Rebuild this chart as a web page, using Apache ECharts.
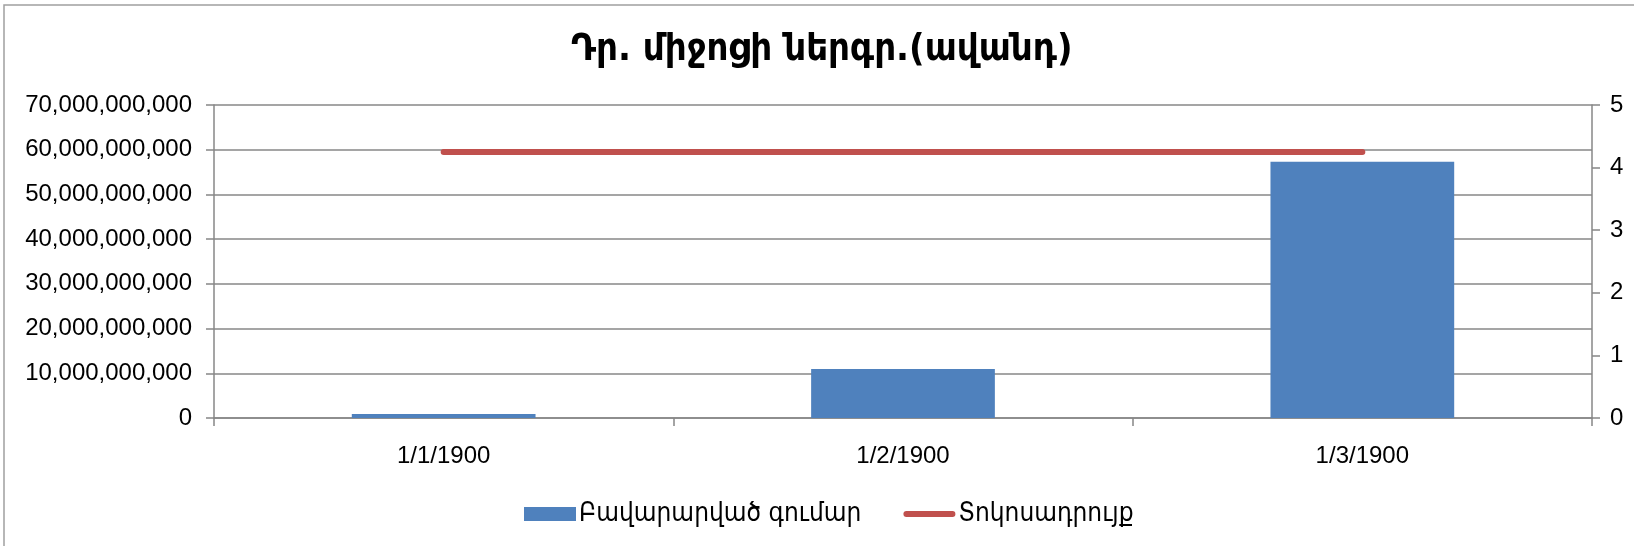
<!DOCTYPE html>
<html>
<head>
<meta charset="utf-8">
<script src="https://cdn.jsdelivr.net/npm/echarts@6/dist/echarts.min.js"></script>
<style>
  html, body { margin: 0; padding: 0; background: #fff; }
  #main { width: 1634px; height: 546px; }
</style>
</head>
<body>
<div id="main"></div>
<script>
// chart data
var categories = ["1/1/1900", "1/2/1900", "1/3/1900"];
var amountValues = [900000000, 10950000000, 57300000000];
var rateValues = [4.25, 4.25, 4.25];
var seriesNames = ["Բավարարված գումար", "Տոկոսադրույք"];
var titleText = "Դր. միջոցի ներգր.(ավանդ)";

var chart = echarts.init(document.getElementById("main"));
var labelFont = "'Liberation Sans', 'DejaVu Sans', sans-serif";
var armFont = "'DejaVu Sans Condensed', 'DejaVu Sans', sans-serif";
var gray = "#878787";

var option = {
  animation: false,
  textStyle: { fontFamily: labelFont },
  title: {
    text: titleText,
    left: 566,
    top: 26,
    textStyle: {
      fontFamily: armFont,
      fontWeight: "bold",
      fontSize: 38,
      color: "#000"
    }
  },
  graphic: [{
    type: "rect",
    shape: { x: 4, y: 5, width: 1700, height: 700 },
    style: { fill: null, stroke: "#a0a0a0", lineWidth: 1.5 },
    silent: true
  }],
  legend: {
    left: 519,
    top: 496,
    itemWidth: 52,
    itemHeight: 14,
    itemGap: 42,
    data: [
      { name: seriesNames[0], icon: "rect" },
      {
        name: seriesNames[1],
        icon: "path://M3,0 H49 A3,3 0 0 1 49,6 H3 A3,3 0 0 1 3,0 Z",
        itemStyle: { color: "#C0504D" }
      }
    ],
    textStyle: {
      fontFamily: armFont,
      fontSize: 26,
      color: "#000",
      padding: [0, 0, 0, -2]
    }
  },
  grid: { left: 214, right: 42, top: 105, bottom: 128 },
  xAxis: {
    type: "category",
    data: categories,
    axisLine: { lineStyle: { color: gray, width: 1.5 } },
    axisTick: { show: true, length: 8, lineStyle: { color: gray, width: 1.5 } },
    axisLabel: { fontSize: 24, color: "#000", margin: 26 }
  },
  yAxis: [
    {
      type: "value",
      min: 0,
      max: 70000000000,
      interval: 10000000000,
      axisLine: { show: true, lineStyle: { color: gray, width: 1.5 } },
      axisTick: { show: true, length: 8, lineStyle: { color: gray, width: 1.5 } },
      splitLine: { lineStyle: { color: gray, width: 1.5 } },
      axisLabel: {
        fontSize: 24,
        color: "#000",
        margin: 22,
        formatter: function (v) { return v.toLocaleString("en-US"); }
      }
    },
    {
      type: "value",
      min: 0,
      max: 5,
      interval: 1,
      axisLine: { show: true, lineStyle: { color: gray, width: 1.5 } },
      axisTick: { show: true, length: 8, lineStyle: { color: gray, width: 1.5 } },
      splitLine: { show: false },
      axisLabel: { fontSize: 24, color: "#000", margin: 18 }
    }
  ],
  series: [
    {
      name: seriesNames[0],
      type: "bar",
      data: amountValues,
      barWidth: "40%",
      itemStyle: { color: "#4F81BD" }
    },
    {
      name: seriesNames[1],
      type: "line",
      yAxisIndex: 1,
      data: rateValues,
      symbol: "none",
      lineStyle: { color: "#C0504D", width: 6, cap: "round" },
      itemStyle: { color: "#C0504D" }
    }
  ]
};

chart.setOption(option);
</script>
</body>
</html>
